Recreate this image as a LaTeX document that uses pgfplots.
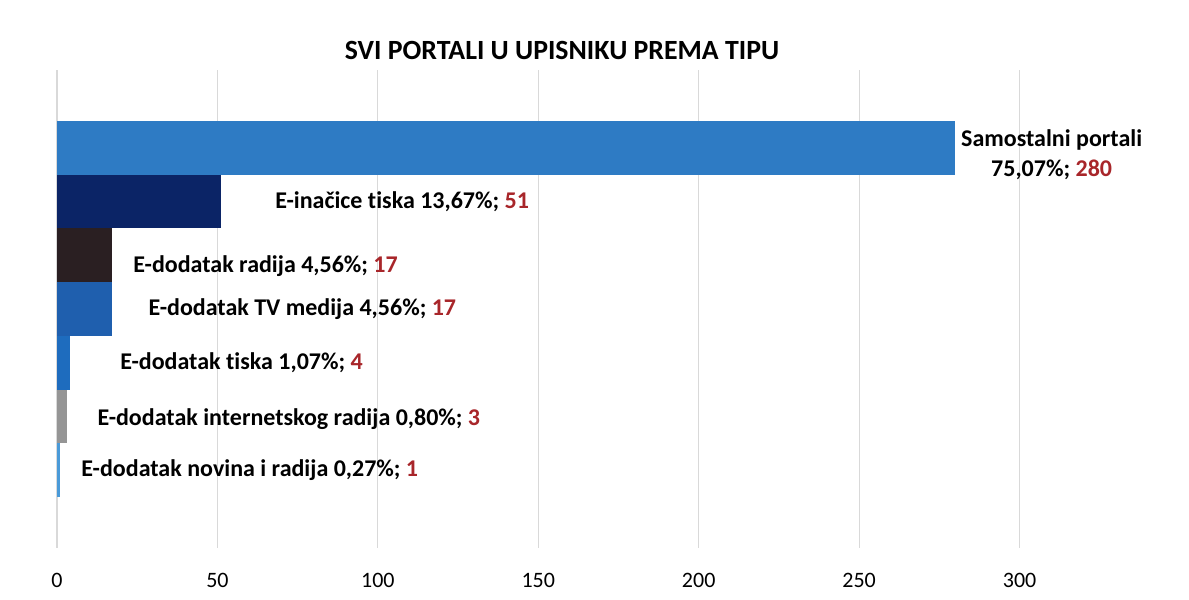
\documentclass[border=0pt]{standalone}
\usepackage{pgfplots}
\pgfplotsset{compat=1.18}
\usepackage{fontspec}
\setmainfont{Carlito}[Ligatures=NoCommon]
\definecolor{cSam}{HTML}{2E7BC4}
\definecolor{cIna}{HTML}{0B2466}
\definecolor{cRad}{HTML}{2A1F22}
\definecolor{cTV}{HTML}{1F5FAE}
\definecolor{cTis}{HTML}{1E6CBE}
\definecolor{cInt}{HTML}{959595}
\definecolor{cNov}{HTML}{4A9AD8}
\definecolor{cNum}{HTML}{A8262A}
\definecolor{cGrid}{HTML}{D9D9D9}
\begin{document}
\begin{tikzpicture}
\begin{axis}[
  name=ax,
  scale only axis,
  width=561.5pt, height=239pt,
  xbar, bar width=1, bar shift=0pt,
  xmin=0, xmax=350,
  ymin=-1.45, ymax=7.45,
  xtick={0,50,...,300},
  ytick=\empty,
  xmajorgrids, major grid style={cGrid, line width=0.6pt},
  axis line style={draw=none},
  major tick length=0pt,
  xticklabel style={font=\fontsize{11}{12}\selectfont, yshift=-9pt},
  /pgf/number format/assume math mode=true,
  clip=false,
]
\addplot[draw=none, fill=cSam] coordinates {(280,6)};
\addplot[draw=none, fill=cIna] coordinates {(51,5)};
\addplot[draw=none, fill=cRad] coordinates {(17,4)};
\addplot[draw=none, fill=cTV] coordinates {(17,3)};
\addplot[draw=none, fill=cTis] coordinates {(4,2)};
\addplot[draw=none, fill=cInt] coordinates {(3,1)};
\addplot[draw=none, fill=cNov] coordinates {(1,0)};
\begin{scope}[every node/.style={font=\bfseries\fontsize{12}{15}\selectfont, inner sep=0pt}]
\node[align=center] at (axis cs:310,5.88) {Samostalni portali\\75,07\%; \textcolor{cNum}{280}};
\node[anchor=west] at (axis cs:67.9,5) {E-inačice tiska 13,67\%; \textcolor{cNum}{51}};
\node[anchor=west] at (axis cs:23.7,3.8) {E-dodatak radija 4,56\%; \textcolor{cNum}{17}};
\node[anchor=west] at (axis cs:28.4,3) {E-dodatak TV medija 4,56\%; \textcolor{cNum}{17}};
\node[anchor=west] at (axis cs:19.6,2) {E-dodatak tiska 1,07\%; \textcolor{cNum}{4}};
\node[anchor=west] at (axis cs:12.5,0.95) {E-dodatak internetskog radija 0,80\%; \textcolor{cNum}{3}};
\node[anchor=west] at (axis cs:7.5,0) {E-dodatak novina i radija 0,27\%; \textcolor{cNum}{1}};
\end{scope}
\node[font=\bfseries\fontsize{13.9}{16}\selectfont] at ([yshift=10pt]rel axis cs:0.4497,1) {SVI PORTALI U UPISNIKU PREMA TIPU};
\end{axis}
\path ([shift={(-28.5pt,-26pt)}]ax.south west) rectangle ([shift={(4.5pt,35pt)}]ax.north east);
\end{tikzpicture}
\end{document}
